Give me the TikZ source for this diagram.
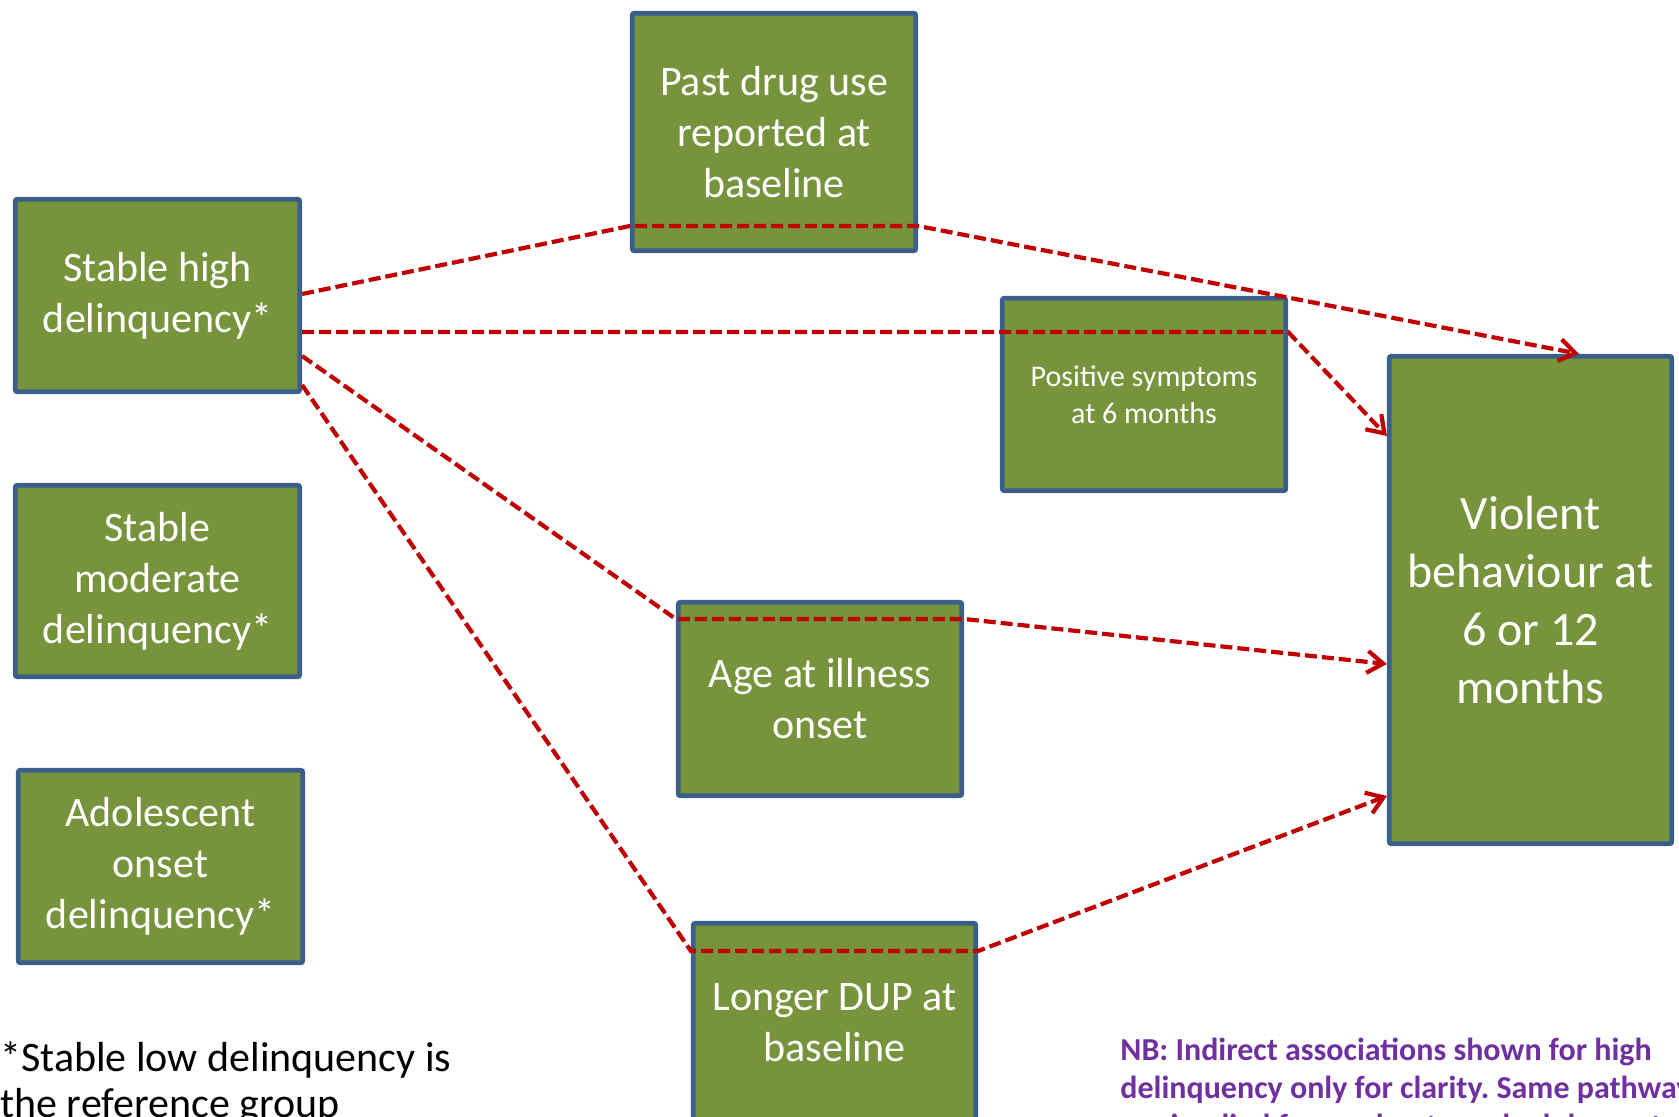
\documentclass[tikz,border=0pt]{standalone}
\usepackage{fontspec}
\setmainfont{Carlito}
\usetikzlibrary{arrows.meta}
\definecolor{boxgreen}{HTML}{77933C}
\definecolor{boxblue}{HTML}{3A5F8B}
\definecolor{linered}{HTML}{C00000}
\definecolor{nbpurple}{HTML}{7030A0}
\frenchspacing
\begin{document}
\begin{tikzpicture}[x=0.5pt,y=-0.5pt,
  gbox/.style={draw=boxblue, line width=2.4pt, fill=boxgreen, text=white,
    align=center, inner sep=0pt, rounded corners=1pt},
  stdtext/.style={font=\fontsize{21}{25.5}\selectfont},
  conn/.style={draw=linered, line width=2.1pt, dash pattern=on 6pt off 2.5pt,
    -{Straight Barb[length=8pt,width=11pt]}},
  fntext/.style={anchor=base west, inner sep=0pt, font=\fontsize{21}{25}\selectfont},
  nbtext/.style={anchor=base west, inner sep=0pt, text=nbpurple,
    font=\fontsize{16}{19}\selectfont\bfseries}
]
\useasboundingbox (0,0) rectangle (1679,1117);
\clip (0,0) rectangle (1679,1117);

% boxes
\node[gbox, stdtext, minimum width=142.2pt, minimum height=96.2pt] (SH) at (157.5,295.5) {Stable high\\delinquency*};
\node[gbox, stdtext, minimum width=142.2pt, minimum height=95.7pt] (SM) at (157.5,581) {Stable\\moderate\\delinquency*};
\node[gbox, stdtext, minimum width=142.2pt, minimum height=96.2pt] (AO) at (160.5,866.5) {Adolescent\\onset\\delinquency*};
\node[gbox, stdtext, minimum width=141.7pt, minimum height=118.7pt] (PD) at (774,132) {Past drug use\\reported at\\baseline};
\node[gbox, font=\fontsize{15}{18.7}\selectfont, minimum width=141.7pt, minimum height=96.2pt] (PS) at (1144,394.5) {Positive symptoms\\at 6 months};
\node[gbox, font=\fontsize{24}{29}\selectfont, minimum width=141.2pt, minimum height=243.7pt] (V) at (1530.5,600) {Violent\\behaviour at\\6 or 12\\months};
\node[gbox, stdtext, minimum width=141.7pt, minimum height=96.7pt] (AG) at (820,699) {Age at illness\\onset};
\node[gbox, stdtext, minimum width=141.2pt, minimum height=99.7pt] (DUP) at (834.5,1023) {Longer DUP at\\baseline};

% connectors
\draw[conn] (SH.east |- 0,294) -- (PD.west |- 0,226) -- (PD.east |- 0,226) -- (V.north -| 1579,0);
\draw[conn] (SH.east |- 0,332) -- (PS.east |- 0,332) -- (V.west |- 0,436);
\draw[conn] (SH.east |- 0,356) -- (AG.west |- 0,619) -- (AG.east |- 0,619) -- (V.west |- 0,664);
\draw[conn] (SH.east |- 0,385) -- (DUP.west |- 0,951) -- (DUP.east |- 0,951) -- (V.west |- 0,796);

% footnote
\node[fntext] (fn1) at (0,1071) {*Stable low delinquency is};
\node[fntext] (fn2) at (0,1117) {the reference group};

% NB note
\node[nbtext] (nb1) at (1120,1060) {NB: Indirect associations shown for high};
\node[nbtext] (nb2) at (1120,1098) {delinquency only for clarity. Same pathways};
\node[nbtext] (nb3) at (1120,1136) {are implied for moderate and adolescent onset delinquency.};
\end{tikzpicture}
\end{document}
